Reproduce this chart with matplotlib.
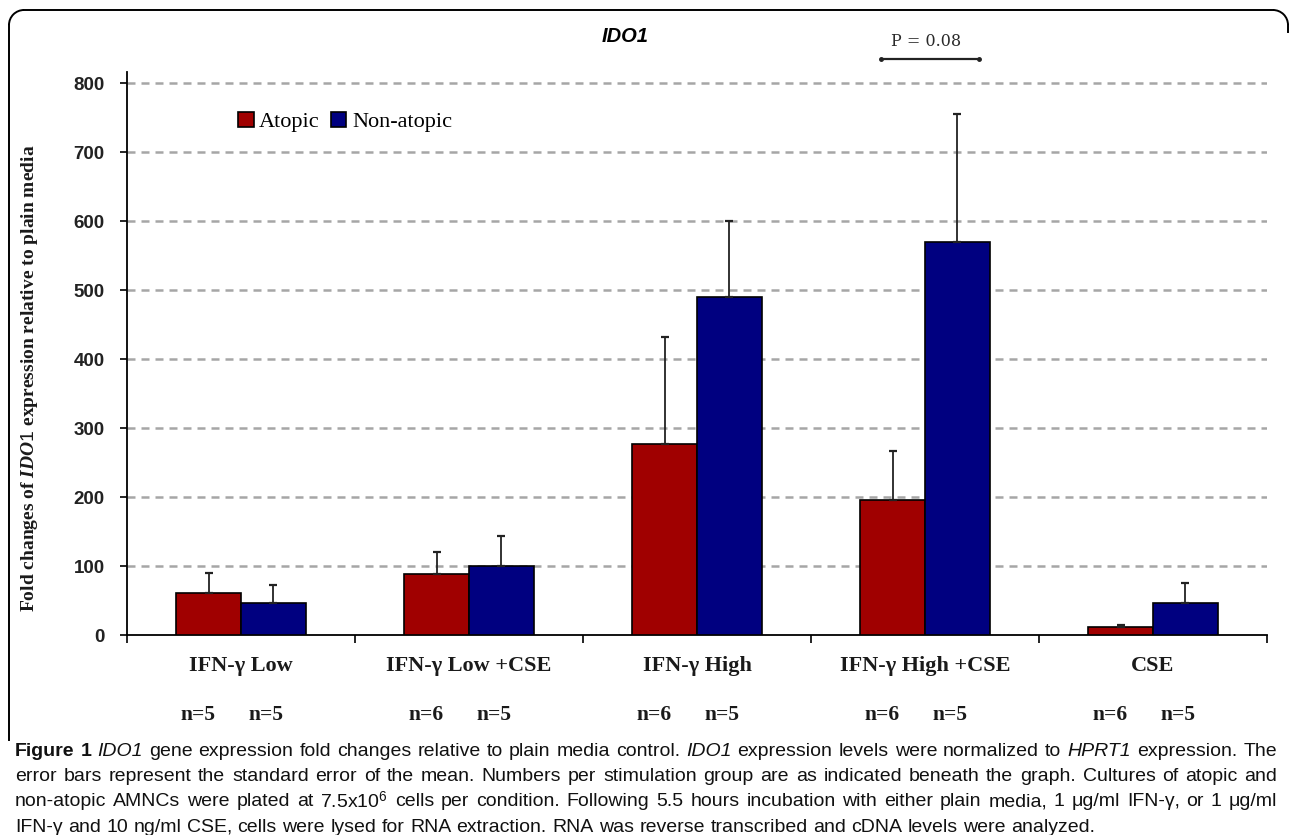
import numpy as np
import matplotlib
matplotlib.use("Agg")
import matplotlib.pyplot as plt
from matplotlib import font_manager
from matplotlib.transforms import blended_transform_factory
from matplotlib.lines import Line2D
from matplotlib.patches import Arc


groups = ["IFN-γ Low", "IFN-γ Low +CSE", "IFN-γ High", "IFN-γ High +CSE", "CSE"]
atopic = [61, 88, 277, 195, 11]
atopic_sem = [29, 32, 155, 72, 3]
non_atopic = [46, 100, 490, 569, 46]
non_atopic_sem = [27, 44, 110, 186, 30]
n_atopic = [5, 6, 6, 6, 6]
n_non_atopic = [5, 5, 5, 5, 5]
yticks = [0, 100, 200, 300, 400, 500, 600, 700, 800]

caption_lines = [
    "**Figure** **1** *IDO1* gene expression fold changes relative to plain media control. "
    "*IDO1* expression levels were normalized to *HPRT1* expression. The",
    "error bars represent the standard error of the mean. Numbers per stimulation group are "
    "as indicated beneath the graph. Cultures of atopic and",
    "non-atopic AMNCs were plated at 7.5x10$^{6}$ cells per condition. Following 5.5 hours "
    "incubation with either plain media, 1 μg/ml IFN-γ, or 1 μg/ml",
    "IFN-γ and 10 ng/ml CSE, cells were lysed for RNA extraction. RNA was reverse "
    "transcribed and cDNA levels were analyzed.",
]

RED = "#a00000"
BLUE = "#000080"
W, H = 1290, 835

plt.rcParams["mathtext.fontset"] = "custom"
plt.rcParams["mathtext.it"] = "Liberation Serif:bold:italic"
plt.rcParams["mathtext.rm"] = "Liberation Sans"


def fx(px):
    return px / W


def fy(py):
    return 1 - py / H


# condensed caption font if it is there
try:
    font_manager.findfont("Liberation Sans Narrow", fallback_to_default=False)
    cap_family = "Liberation Sans Narrow"
    cap_size = 15
except ValueError:
    cap_family = "Liberation Sans"
    cap_size = 14

fig = plt.figure(figsize=(W / 100, H / 100), dpi=100)
ax = fig.add_axes([fx(127), fy(635), fx(1267) - fx(127), fy(72) - fy(635)])

x = np.arange(len(groups))
bw = 0.285
ax.bar(x - bw, atopic, bw, align="edge", color=RED, edgecolor="black",
       linewidth=1.2, label="Atopic", zorder=3)
ax.bar(x, non_atopic, bw, align="edge", color=BLUE, edgecolor="black",
       linewidth=1.2, label="Non-atopic", zorder=3)
ax.errorbar(x - bw / 2, atopic, yerr=[np.zeros(len(x)), atopic_sem], fmt="none",
            ecolor="#222222", elinewidth=1.3, capsize=2.8, capthick=1.6, zorder=4)
ax.errorbar(x + bw / 2, non_atopic, yerr=[np.zeros(len(x)), non_atopic_sem], fmt="none",
            ecolor="#222222", elinewidth=1.3, capsize=2.8, capthick=1.6, zorder=4)

ax.set_xlim(-0.5, len(groups) - 0.5)
ax.set_ylim(0, 816)
ax.set_yticks(yticks)
ax.set_yticklabels([str(t) for t in yticks], fontsize=13.5, fontweight="bold",
                   family="Liberation Sans", color="#222222")
ax.set_xticks(np.arange(len(groups) + 1) - 0.5)
ax.set_xticklabels([])
ax.tick_params(axis="y", direction="out", length=5, width=1.2, pad=11)
ax.tick_params(axis="x", direction="out", length=6, width=1.2)
for yv in yticks[1:]:
    ax.axhline(yv, color="#a6a6a6", lw=1.8, ls=(0, (3.2, 2.4)), zorder=1)
for s in ["top", "right"]:
    ax.spines[s].set_visible(False)
for s in ["left", "bottom"]:
    ax.spines[s].set_linewidth(1.3)

ax.legend(loc="center left", bbox_to_anchor=((238 - 127) / 1140, (635 - 122) / 563),
          ncol=2, frameon=False, handlelength=0.7, handleheight=0.7,
          handletextpad=0.25, columnspacing=0.5, borderpad=0, borderaxespad=0,
          prop={"family": "Liberation Serif", "size": 16})

# group labels and n= counts under the axis
tr = blended_transform_factory(ax.transData, fig.transFigure)
for i, g in enumerate(groups):
    ax.text(i, fy(666), g, transform=tr, ha="center", va="center",
            family="Liberation Serif", fontweight="bold", fontsize=16, color="#1a1a1a")
    ax.text(i - 0.19, fy(715), f"n={n_atopic[i]}", transform=tr, ha="center",
            va="center", family="Liberation Serif", fontweight="bold", fontsize=15.5,
            color="#1a1a1a")
    ax.text(i + 0.11, fy(715), f"n={n_non_atopic[i]}", transform=tr, ha="center",
            va="center", family="Liberation Serif", fontweight="bold", fontsize=15.5,
            color="#1a1a1a")

fig.text(fx(30), fy(378), r"Fold changes of $\mathit{IDO1}$ expression relative to plain media",
         rotation=90, ha="center", va="center", family="Liberation Serif",
         fontweight="bold", fontsize=14, color="#1a1a1a")

fig.text(fx(625), fy(37), "IDO1", ha="center", va="center", family="Liberation Sans",
         fontweight="bold", style="italic", fontsize=14.5)

# P value bracket over IFN-γ High +CSE
fig.text(fx(926), fy(42), "P = 0.08", ha="center", va="center", family="DejaVu Serif",
         fontsize=11.5, color="#2a2a2a")
fig.add_artist(Line2D([fx(881), fx(979)], [fy(59), fy(59)], color="#222222", lw=1.6,
                      marker="o", markersize=2.5, transform=fig.transFigure))

# rounded frame around the figure
r = 15
frame = dict(color="black", lw=1.4, transform=fig.transFigure)
fig.add_artist(Line2D([fx(9), fx(9)], [fy(740), fy(10 + r)], **frame))
fig.add_artist(Line2D([fx(9 + r), fx(1288 - r)], [fy(10), fy(10)], **frame))
fig.add_artist(Line2D([fx(1288), fx(1288)], [fy(10 + r), fy(32)], **frame))
fig.add_artist(Arc((fx(9 + r), fy(10 + r)), 2 * r / W, 2 * r / H, theta1=90, theta2=180,
                   color="black", lw=1.4, transform=fig.transFigure))
fig.add_artist(Arc((fx(1288 - r), fy(10 + r)), 2 * r / W, 2 * r / H, theta1=0, theta2=90,
                   color="black", lw=1.4, transform=fig.transFigure))


def draw_line(words_line, y, justify):
    """Draw one caption line word by word, spreading the gaps to full width."""
    renderer = fig.canvas.get_renderer()
    items = []
    for tok in words_line.split(" "):
        weight, style = "normal", "normal"
        if tok.startswith("**"):
            weight, tok = "bold", tok.strip("*")
        elif tok.startswith("*"):
            style, tok = "italic", tok.strip("*")
        t = fig.text(0, fy(y), tok, ha="left", va="center", family=cap_family,
                     fontsize=cap_size, fontweight=weight, style=style, color="#111111")
        items.append(t)
    widths = [t.get_window_extent(renderer).width for t in items]
    left, right = 15, 1277
    gap = cap_size * 0.28 * 100 / 72
    if justify:
        gap = max((right - left - sum(widths)) / (len(items) - 1), 2)
    xpos = left
    for t, w in zip(items, widths):
        t.set_x(fx(xpos))
        xpos += w + gap


for k, line in enumerate(caption_lines):
    draw_line(line, 751 + k * 25.5, justify=k < len(caption_lines) - 1)

fig.savefig("out.png", dpi=100)
